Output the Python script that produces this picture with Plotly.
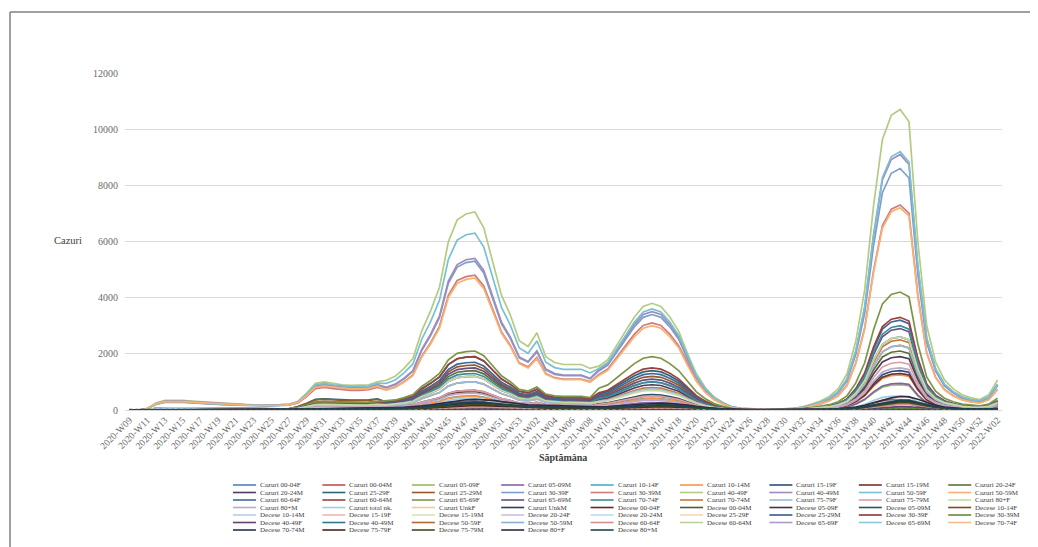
import plotly.graph_objects as go

weeks = ["2020-W09","2020-W10","2020-W11","2020-W12","2020-W13","2020-W14","2020-W15","2020-W16","2020-W17","2020-W18",
"2020-W19","2020-W20","2020-W21","2020-W22","2020-W23","2020-W24","2020-W25","2020-W26","2020-W27","2020-W28",
"2020-W29","2020-W30","2020-W31","2020-W32","2020-W33","2020-W34","2020-W35","2020-W36","2020-W37","2020-W38",
"2020-W39","2020-W40","2020-W41","2020-W42","2020-W43","2020-W44","2020-W45","2020-W46","2020-W47","2020-W48",
"2020-W49","2020-W50","2020-W51","2020-W52","2020-W53","2021-W01","2021-W02","2021-W03","2021-W04","2021-W05",
"2021-W06","2021-W07","2021-W08","2021-W09","2021-W10","2021-W11","2021-W12","2021-W13","2021-W14","2021-W15",
"2021-W16","2021-W17","2021-W18","2021-W19","2021-W20","2021-W21","2021-W22","2021-W23","2021-W24","2021-W25",
"2021-W26","2021-W27","2021-W28","2021-W29","2021-W30","2021-W31","2021-W32","2021-W33","2021-W34","2021-W35",
"2021-W36","2021-W37","2021-W38","2021-W39","2021-W40","2021-W41","2021-W42","2021-W43","2021-W44","2021-W45",
"2021-W46","2021-W47","2021-W48","2021-W49","2021-W50","2021-W51","2021-W52","2022-W01","2022-W02"]

c_00_04F = [0,0,2,7,10,10,10,9,9,8,7,7,6,6,5,5,5,6,6,
 9,18,29,30,29,27,26,26,27,30,
 23,26,32,39,60,75,93,128,144,149,150,138,113,87,72,53,48,59,41,36,35,35,35,32,
 41,47,60,74,87,97,100,97,87,74,53,34,21,12,7,3,
 2,1,1,1,1,1,2,4,7,11,16,25,42,81,140,238,315,343,350,336,196,98,56,35,25,18,14,12,18,35]
c_00_04M = [0,0,2,7,10,10,10,9,9,8,7,7,6,6,5,5,5,6,6,
 11,21,33,35,33,32,31,31,32,35,
 26,29,36,44,68,85,105,145,163,168,170,156,128,99,82,60,54,66,46,41,39,39,39,36,
 45,52,66,81,96,107,110,107,96,81,58,37,23,13,8,3,
 2,2,1,1,1,2,2,4,8,11,17,27,46,87,152,258,342,372,380,365,213,106,61,38,27,19,15,13,19,38]
c_05_09F = [0,0,2,7,10,10,10,9,9,8,7,7,6,6,5,5,5,6,6,
 15,30,48,50,48,45,44,44,45,50,
 45,51,63,78,120,150,186,255,288,297,300,276,225,174,144,105,96,117,81,72,69,69,69,63,
 103,118,150,185,218,243,250,243,218,185,133,85,53,30,18,8,
 5,4,3,3,3,4,5,9,18,27,41,63,108,207,360,612,810,882,900,864,504,252,144,90,63,45,36,32,45,90]
c_05_09M = [0,0,2,7,10,10,10,9,9,8,7,7,6,6,5,5,5,6,6,
 15,30,48,50,48,45,44,44,45,50,
 48,54,67,83,128,160,198,272,307,317,320,294,240,186,154,112,102,125,86,77,74,74,74,67,
 107,122,156,192,226,252,260,252,226,192,138,88,55,31,18,8,
 6,4,3,3,3,4,6,10,19,29,43,67,114,219,380,646,855,931,950,912,532,266,152,95,67,48,38,33,48,95]
c_10_14F = [0,0,2,11,15,15,15,14,13,12,11,10,9,8,8,8,8,8,9,
 24,48,76,80,76,72,70,70,72,80,
 75,85,105,130,200,250,310,425,480,495,500,460,375,290,240,175,160,195,135,120,115,115,115,105,
 172,197,252,311,365,407,420,407,365,311,223,143,88,50,29,13,
 8,5,4,4,4,5,8,13,26,39,59,91,156,299,520,884,1170,1274,1300,1248,728,364,208,130,91,65,52,46,65,130]
c_10_14M = [0,0,2,11,15,15,15,14,13,12,11,10,9,8,8,8,8,8,9,
 24,48,76,80,76,72,70,70,72,80,
 72,82,101,125,192,240,298,408,461,475,480,442,360,278,230,168,154,187,130,115,110,110,110,101,
 164,188,240,296,348,388,400,388,348,296,212,136,84,48,28,12,
 8,5,4,4,4,5,8,13,25,38,56,88,150,288,500,850,1125,1225,1250,1200,700,350,200,125,88,63,50,44,63,125]
c_15_19F = [0,0,3,14,19,20,19,18,17,15,14,13,12,11,10,10,10,11,12,
 36,72,114,120,114,108,106,106,108,120,
 105,119,147,182,280,350,434,595,672,693,700,644,525,406,336,245,224,273,189,168,161,161,161,147,
 226,259,330,407,479,534,550,534,479,407,292,187,116,66,39,17,
 8,6,4,4,4,6,8,14,28,42,63,98,168,322,560,952,1260,1372,1400,1344,784,392,224,140,98,70,56,49,70,140]
c_15_19M = [0,0,3,14,19,20,19,18,17,15,14,13,12,11,10,10,10,11,12,
 36,72,114,120,114,108,106,106,108,120,
 98,111,137,169,260,325,403,553,624,644,650,598,488,377,312,228,208,254,176,156,150,150,150,137,
 205,235,300,370,435,485,500,485,435,370,265,170,105,60,35,15,
 8,5,4,4,4,5,8,13,26,39,59,91,156,299,520,884,1170,1274,1300,1248,728,364,208,130,91,65,52,46,65,130]
c_20_24F = [0,0,8,35,49,50,49,45,43,39,35,33,30,28,26,26,26,28,30,
 90,180,285,300,285,270,264,264,270,300,
 210,238,294,364,560,700,868,1190,1344,1386,1400,1288,1050,812,672,490,448,546,378,336,322,322,322,294,
 410,470,600,740,870,970,1000,970,870,740,530,340,210,120,70,30,
 13,8,6,6,6,8,13,21,42,63,95,147,252,483,840,1428,1890,2058,2100,2016,1176,588,336,210,147,105,84,74,105,210]
c_20_24M = [0,0,8,35,49,50,49,45,43,39,35,33,30,28,26,26,26,28,30,
 84,168,266,280,266,252,246,246,252,280,
 180,204,252,312,480,600,744,1020,1152,1188,1200,1104,900,696,576,420,384,468,324,288,276,276,276,252,
 369,423,540,666,783,873,900,873,783,666,477,306,189,108,63,27,
 11,8,6,6,6,8,11,19,38,57,86,133,228,437,760,1292,1710,1862,1900,1824,1064,532,304,190,133,95,76,67,95,190]
c_25_29F = [0,0,11,49,68,70,68,63,60,54,49,46,42,39,36,36,36,39,42,
 120,240,380,400,380,360,352,352,360,400,
 285,323,399,494,760,950,1178,1615,1824,1881,1900,1748,1425,1102,912,665,608,741,513,456,437,437,437,399,
 574,658,840,1036,1218,1358,1400,1358,1218,1036,742,476,294,168,98,42,
 16,10,8,8,8,10,16,26,52,78,117,182,312,598,1040,1768,2340,2548,2600,2496,1456,728,416,260,182,130,104,91,130,260]
c_25_29M = [0,0,11,49,68,70,68,63,60,54,49,46,42,39,36,36,36,39,42,
 114,228,361,380,361,342,334,334,342,380,
 240,272,336,416,640,800,992,1360,1536,1584,1600,1472,1200,928,768,560,512,624,432,384,368,368,368,336,
 492,564,720,888,1044,1164,1200,1164,1044,888,636,408,252,144,84,36,
 14,9,7,7,7,9,14,23,46,69,104,161,276,529,920,1564,2070,2254,2300,2208,1288,644,368,230,161,115,92,81,115,230]
c_30_39F = [0,0,40,200,270,280,270,250,240,220,200,180,170,150,150,150,150,150,170,
 260,510,810,850,810,770,750,750,770,850,
 800,900,1110,1380,2120,2650,3290,4510,5090,5250,5300,4880,3980,3070,2540,1860,1700,2070,1430,1270,1220,1220,1220,1110,
 1390,1600,2040,2520,2960,3300,3400,3300,2960,2520,1800,1160,710,410,240,100,
 52,34,26,26,26,34,52,86,170,260,390,600,1030,1980,3440,5850,7740,8430,8600,8260,4820,2410,1380,860,600,430,340,300,430,860]
c_30_39M = [0,0,45,210,290,300,290,270,260,230,210,200,180,170,160,160,160,170,180,
 240,480,760,800,760,720,700,700,720,800,
 720,820,1010,1250,1920,2400,2980,4080,4610,4750,4800,4420,3600,2780,2300,1680,1540,1870,1300,1150,1100,1100,1100,1010,
 1270,1460,1860,2290,2700,3010,3100,3010,2700,2290,1640,1050,650,370,220,90,
 44,29,22,22,22,29,44,73,150,220,330,510,880,1680,2920,4960,6570,7150,7300,7010,4090,2040,1170,730,510,370,290,260,370,730]
c_40_49F = [0,0,50,250,340,350,340,320,300,270,250,230,210,190,180,180,180,190,210,
 300,600,950,1000,950,900,880,880,900,1000,
 1060,1200,1480,1830,2820,3530,4370,5990,6770,6980,7050,6490,5290,4090,3380,2470,2260,2750,1900,1690,1620,1620,1620,1480,
 1560,1790,2280,2810,3310,3690,3800,3690,3310,2810,2010,1290,800,460,270,110,
 60,40,30,30,30,40,60,110,210,320,480,750,1280,2460,4280,7280,9630,10490,10700,10270,5990,3000,1710,1070,750,540,430,370,540,1070]
c_40_49M = [0,0,50,230,320,330,320,300,280,250,230,210,200,180,170,170,170,180,200,
 270,540,860,900,860,810,790,790,810,900,
 810,920,1130,1400,2160,2700,3350,4590,5180,5350,5400,4970,4050,3130,2590,1890,1730,2110,1460,1300,1240,1240,1240,1130,
 1440,1650,2100,2590,3050,3400,3500,3400,3050,2590,1860,1190,740,420,250,110,
 55,36,27,27,27,36,55,91,180,270,410,640,1090,2090,3640,6190,8190,8920,9100,8740,5100,2550,1460,910,640,460,360,320,460,910]
c_50_59F = [0,0,45,210,290,300,290,270,260,230,210,200,180,170,160,160,160,170,180,
 290,570,900,950,900,860,840,840,860,950,
 950,1070,1320,1640,2520,3150,3910,5360,6050,6240,6300,5800,4730,3650,3020,2210,2020,2460,1700,1510,1450,1450,1450,1320,
 1480,1690,2160,2660,3130,3490,3600,3490,3130,2660,1910,1220,760,430,250,110,
 55,37,28,28,28,37,55,92,184,276,414,644,1104,2116,3680,6256,8280,9016,9200,8832,5152,2576,1472,920,644,460,368,322,460,920]
c_50_59M = [0,0,45,220,300,310,300,280,260,240,220,200,190,170,160,160,160,170,190,
 260,510,810,850,810,770,750,750,770,850,
 710,800,990,1220,1880,2350,2910,4000,4510,4650,4700,4320,3530,2730,2260,1650,1500,1830,1270,1130,1080,1080,1080,990,
 1230,1410,1800,2220,2610,2910,3000,2910,2610,2220,1590,1020,630,360,210,90,
 43,29,22,22,22,29,43,72,140,220,320,500,860,1660,2880,4900,6480,7060,7200,6910,4030,2020,1150,720,500,360,290,250,360,720]
c_60_64F = [0,0,9,42,58,60,58,54,51,46,42,39,36,33,31,31,31,33,36,
 75,150,238,250,238,225,220,220,225,250,
 255,289,357,442,680,850,1054,1445,1632,1683,1700,1564,1275,986,816,595,544,663,459,408,391,391,391,357,
 533,611,780,962,1131,1261,1300,1261,1131,962,689,442,273,156,91,39,
 19,13,10,10,10,13,19,32,64,96,144,224,384,736,1280,2176,2880,3136,3200,3072,1792,896,512,320,224,160,128,112,160,320]
c_60_64M = [0,0,10,55,78,80,78,72,68,62,56,52,48,44,42,42,42,44,48,
 84,168,266,280,266,252,246,246,252,280,
 285,323,399,494,760,950,1178,1615,1824,1881,1900,1748,1425,1102,912,665,608,741,513,456,437,437,437,399,
 615,705,900,1110,1305,1455,1500,1455,1305,1110,795,510,315,180,105,45,
 20,13,10,10,10,13,20,33,66,99,149,231,396,759,1320,2244,2970,3234,3300,3168,1848,924,528,330,231,165,132,116,165,330]
c_65_69F = [0,0,10,55,78,80,78,72,68,62,56,52,48,44,42,42,42,44,48,
 90,180,285,300,285,270,264,264,270,300,
 315,357,441,546,840,1050,1302,1785,2016,2079,2100,1932,1575,1218,1008,735,672,819,567,504,483,483,483,441,
 779,893,1140,1406,1653,1843,1900,1843,1653,1406,1007,646,399,228,133,57,
 25,17,13,13,13,17,25,42,84,126,189,294,504,966,1680,2856,3780,4116,4200,4032,2352,1176,672,420,294,210,168,147,210,420]
c_65_69M = [0,0,9,42,58,60,58,54,51,46,42,39,36,33,31,31,31,33,36,
 69,138,219,230,219,207,202,202,207,230,
 225,255,315,390,600,750,930,1275,1440,1485,1500,1380,1125,870,720,525,480,585,405,360,345,345,345,315,
 451,517,660,814,957,1067,1100,1067,957,814,583,374,231,132,77,33,
 17,12,9,9,9,12,17,29,58,87,131,203,348,667,1160,1972,2610,2842,2900,2784,1624,812,464,290,203,145,116,102,145,290]
c_70_74F = [0,0,8,35,49,50,49,45,43,39,35,33,30,28,26,26,26,28,30,
 60,120,190,200,190,180,176,176,180,200,
 195,221,273,338,520,650,806,1105,1248,1287,1300,1196,975,754,624,455,416,507,351,312,299,299,299,273,
 410,470,600,740,870,970,1000,970,870,740,530,340,210,120,70,30,
 18,12,9,9,9,12,18,30,60,90,135,210,360,690,1200,2040,2700,2940,3000,2880,1680,840,480,300,210,150,120,105,150,300]
c_70_74M = [0,0,8,35,49,50,49,45,43,39,35,33,30,28,26,26,26,28,30,
 51,102,162,170,162,153,150,150,153,170,
 150,170,210,260,400,500,620,850,960,990,1000,920,750,580,480,350,320,390,270,240,230,230,230,210,
 328,376,480,592,696,776,800,776,696,592,424,272,168,96,56,24,
 15,10,8,8,8,10,15,25,50,75,113,175,300,575,1000,1700,2250,2450,2500,2400,1400,700,400,250,175,125,100,88,125,250]
c_75_79F = [0,0,8,35,49,50,49,45,43,39,35,33,30,28,26,26,26,28,30,
 45,90,143,150,143,135,132,132,135,150,
 150,170,210,260,400,500,620,850,960,990,1000,920,750,580,480,350,320,390,270,240,230,230,230,210,
 308,353,450,555,653,728,750,728,653,555,398,255,158,90,53,23,
 14,9,7,7,7,9,14,23,46,69,104,161,276,529,920,1564,2070,2254,2300,2208,1288,644,368,230,161,115,92,81,115,230]
c_75_79M = [0,0,6,28,39,40,39,36,34,31,28,26,24,22,21,21,21,22,24,
 33,66,105,110,105,99,97,97,99,110,
 105,119,147,182,280,350,434,595,672,693,700,644,525,406,336,245,224,273,189,168,161,161,161,147,
 205,235,300,370,435,485,500,485,435,370,265,170,105,60,35,15,
 10,7,5,5,5,7,10,17,34,51,77,119,204,391,680,1156,1530,1666,1700,1632,952,476,272,170,119,85,68,60,85,170]
c_80pF = [0,0,10,55,78,80,78,72,68,62,56,52,48,44,42,42,42,44,48,
 60,120,190,200,190,180,176,176,180,200,
 180,204,252,312,480,600,744,1020,1152,1188,1200,1104,900,696,576,420,384,468,324,288,276,276,276,252,
 287,329,420,518,609,679,700,679,609,518,371,238,147,84,49,21,
 16,10,8,8,8,10,16,26,52,78,117,182,312,598,1040,1768,2340,2548,2600,2496,1456,728,416,260,182,130,104,91,130,260]
c_80pM = [0,0,8,35,49,50,49,45,43,39,35,33,30,28,26,26,26,28,30,
 30,60,95,100,95,90,88,88,90,100,
 90,102,126,156,240,300,372,510,576,594,600,552,450,348,288,210,192,234,162,144,138,138,138,126,
 144,165,210,259,305,340,350,340,305,259,186,119,74,42,25,11,
 9,6,5,5,5,6,9,15,30,45,68,105,180,345,600,1020,1350,1470,1500,1440,840,420,240,150,105,75,60,53,75,150]
c_total_nk = [0,0,5,21,29,30,29,27,26,23,21,20,18,17,16,16,16,17,18,
 18,36,57,60,57,54,53,53,54,60,
 60,68,84,104,160,200,248,340,384,396,400,368,300,232,192,140,128,156,108,96,92,92,92,84,
 82,94,120,148,174,194,200,194,174,148,106,68,42,24,14,6,
 3,2,2,2,2,2,3,5,10,15,23,35,60,115,200,340,450,490,500,480,280,140,80,50,35,25,20,18,25,50]
c_unkF = [0,0,1,4,5,5,5,5,4,4,4,3,3,3,3,3,3,3,3,
 6,12,19,20,19,18,18,18,18,20,
 30,34,42,52,80,100,124,170,192,198,200,184,150,116,96,70,64,78,54,48,46,46,46,42,
 41,47,60,74,87,97,100,97,87,74,53,34,21,12,7,3,
 2,1,1,1,1,1,2,3,6,9,14,21,36,69,120,204,270,294,300,288,168,84,48,30,21,15,12,11,15,30]
c_unkM = [0,0,1,4,5,5,5,5,4,4,4,3,3,3,3,3,3,3,3,
 6,12,19,20,19,18,18,18,18,20,
 23,26,32,39,60,75,93,128,144,149,150,138,113,87,72,53,48,59,41,36,35,35,35,32,
 33,38,48,59,70,78,80,78,70,59,42,27,17,10,6,2,
 2,1,1,1,1,1,2,3,5,8,11,18,30,58,100,170,225,245,250,240,140,70,40,25,18,13,10,9,13,25]

d_00_04F = [0,0,0,0,0,0,0,0,0,0,0,0,0,0,0,0,0,0,0,
 0,0,0,0,0,0,0,0,0,0,
 0,0,0,0,0,0,0,0,0,1,1,1,0,0,0,0,0,0,0,0,0,0,0,0,
 0,0,0,0,0,0,0,0,0,0,0,0,0,0,0,0,
 0,0,0,0,0,0,0,0,0,0,0,0,0,0,0,1,1,1,2,1,1,1,0,0,0,0,0,0,0,0]
d_00_04M = [0,0,0,0,0,0,0,0,0,0,0,0,0,0,0,0,0,0,0,
 0,0,0,0,0,0,0,0,0,0,
 0,0,0,0,0,0,0,0,1,1,1,1,1,0,0,0,0,0,0,0,0,0,0,0,
 0,0,0,0,0,0,0,0,0,0,0,0,0,0,0,0,
 0,0,0,0,0,0,0,0,0,0,0,0,0,0,1,1,1,2,2,1,1,0,0,0,0,0,0,0,0,0]
d_05_09F = [0,0,0,0,0,0,0,0,0,0,0,0,0,0,0,0,0,0,0,
 0,0,0,0,0,0,0,0,0,0,
 0,0,0,0,0,0,0,0,0,0,1,0,0,0,0,0,0,0,0,0,0,0,0,0,
 0,0,0,0,0,0,0,0,0,0,0,0,0,0,0,0,
 0,0,0,0,0,0,0,0,0,0,0,0,0,0,0,0,1,1,1,1,0,0,0,0,0,0,0,0,0,0]
d_05_09M = [0,0,0,0,0,0,0,0,0,0,0,0,0,0,0,0,0,0,0,
 0,0,0,0,0,0,0,0,0,0,
 0,0,0,0,0,0,0,0,0,0,0,0,0,0,0,0,0,0,0,0,0,0,0,0,
 0,0,0,0,0,0,0,0,0,0,0,0,0,0,0,0,
 0,0,0,0,0,0,0,0,0,0,0,0,0,0,0,0,0,0,0,0,0,0,0,0,0,0,0,0,0,0]
d_10_14F = [0,0,0,0,0,0,0,0,0,0,0,0,0,0,0,0,0,0,0,
 0,0,0,0,0,0,0,0,0,0,
 0,0,0,0,0,0,0,1,1,1,1,1,1,0,0,0,0,0,0,0,0,0,0,0,
 0,0,0,0,0,1,1,1,0,0,0,0,0,0,0,0,
 0,0,0,0,0,0,0,0,0,0,0,0,0,0,1,1,1,2,2,2,1,1,0,0,0,0,0,0,0,0]
d_10_14M = [0,0,0,0,0,0,0,0,0,0,0,0,0,0,0,0,0,0,0,
 0,0,0,0,0,0,0,0,0,0,
 0,0,0,0,0,0,0,1,1,1,1,1,1,0,0,0,0,0,0,0,0,0,0,0,
 0,0,0,0,0,1,1,1,0,0,0,0,0,0,0,0,
 0,0,0,0,0,0,0,0,0,0,0,0,0,0,1,1,1,2,2,2,1,1,0,0,0,0,0,0,0,0]
d_15_19F = [0,0,0,0,0,0,0,0,0,0,0,0,0,0,0,0,0,0,0,
 0,0,0,0,0,0,0,0,0,0,
 0,0,0,0,1,1,1,1,2,2,2,2,2,1,1,1,1,1,1,1,0,0,0,0,
 1,1,1,1,1,2,2,2,2,1,1,1,0,0,0,0,
 0,0,0,0,0,0,0,0,0,0,0,0,0,1,1,1,2,3,3,3,2,2,1,1,0,0,0,0,0,0]
d_15_19M = [0,0,0,0,0,0,0,0,0,0,0,0,0,0,0,0,0,0,0,
 0,0,0,0,0,0,0,0,0,0,
 0,0,0,1,1,1,1,2,2,2,2,2,2,2,1,1,1,1,1,1,1,0,0,0,
 1,1,1,1,1,2,2,2,2,1,1,1,0,0,0,0,
 0,0,0,0,0,0,0,0,0,0,0,0,1,1,1,2,3,4,4,4,3,2,1,1,1,0,0,0,0,0]
d_20_24F = [0,0,0,0,0,0,0,0,0,0,0,0,0,0,0,0,0,0,0,
 0,0,0,0,1,1,1,1,1,1,
 1,1,1,1,1,2,2,2,3,3,3,3,3,2,2,2,2,1,1,1,1,1,1,1,
 1,1,2,2,2,3,3,3,3,2,2,2,1,1,0,0,
 0,0,0,0,0,0,0,0,0,0,0,0,1,1,2,3,4,5,5,5,4,3,2,1,1,1,0,0,0,0]
d_20_24M = [0,0,0,0,0,0,0,0,0,0,0,0,0,0,0,0,0,0,0,
 0,0,1,1,1,1,1,1,1,1,
 1,1,1,1,2,2,2,3,4,4,4,4,4,3,3,2,2,2,2,2,1,1,1,1,
 2,2,2,3,3,4,4,4,4,3,3,2,1,1,1,0,
 0,0,0,0,0,0,0,0,0,0,0,1,1,2,3,4,6,7,8,8,6,4,3,2,1,1,1,1,1,1]
d_25_29F = [0,0,0,0,0,0,0,0,0,0,0,0,0,0,0,0,0,0,0,
 0,1,1,1,1,1,1,1,1,1,
 1,1,1,2,2,2,3,4,4,5,5,5,5,4,3,3,2,2,2,2,2,2,2,2,
 2,2,2,3,3,4,4,4,4,3,3,2,1,1,1,0,
 0,0,0,0,0,0,0,0,0,0,1,1,1,2,4,5,7,9,10,10,8,6,4,2,2,1,1,1,1,1]
d_25_29M = [0,0,0,0,0,0,0,0,0,0,0,0,0,0,0,0,0,0,0,
 1,1,1,1,1,1,1,1,1,1,
 2,2,2,2,3,4,5,6,7,8,8,8,7,6,5,4,4,4,3,3,3,3,3,2,
 3,3,3,4,5,5,6,6,6,5,4,3,2,1,1,1,
 0,0,0,0,0,0,0,0,0,1,1,1,2,3,5,8,11,14,15,15,12,8,5,3,2,2,1,1,1,1]
d_30_39F = [0,0,0,0,1,1,1,1,1,1,1,1,1,1,1,1,1,1,1,
 2,2,3,3,3,3,3,3,3,4,
 4,4,5,6,8,10,12,15,18,19,20,20,18,16,13,11,10,9,8,8,7,7,6,6,
 7,8,9,10,12,14,15,15,14,13,11,8,5,4,2,1,
 1,1,0,0,0,0,1,1,1,2,2,4,6,9,14,21,29,36,40,39,32,22,14,9,6,4,4,3,3,4]
d_30_39M = [0,0,0,1,2,2,2,2,2,2,2,2,2,2,2,2,2,2,3,
 3,4,5,6,6,6,6,6,6,7,
 8,9,10,12,15,19,24,30,35,38,40,39,36,31,26,22,19,18,17,15,14,13,13,12,
 14,15,17,20,24,27,29,30,29,26,21,16,11,7,5,3,
 2,1,1,1,1,1,1,2,2,3,5,7,11,18,28,42,58,72,80,78,64,44,28,18,12,9,7,6,6,7]
d_40_49F = [0,0,0,1,3,3,3,3,3,3,2,2,2,2,2,2,3,3,4,
 4,5,7,8,8,8,8,8,8,9,
 10,11,13,15,19,24,30,38,44,48,50,49,45,39,33,28,24,23,21,19,18,17,16,16,
 18,20,23,27,32,36,39,40,38,34,28,21,14,10,6,4,
 2,2,1,1,1,1,2,2,4,5,7,11,17,26,42,62,86,108,120,116,96,66,42,26,18,13,11,10,10,11]
d_40_49M = [0,0,0,2,6,7,7,7,6,6,4,4,4,4,4,4,6,7,8,
 9,11,14,17,18,18,17,17,18,20,
 22,24,28,33,42,53,66,83,97,106,110,108,99,86,73,61,53,50,46,42,39,36,35,34,
 36,40,46,54,64,72,78,80,76,68,56,42,29,19,12,7,
 5,3,2,2,2,2,3,5,7,9,14,21,32,51,81,120,166,207,230,223,184,127,81,51,35,25,21,18,18,21]
d_50_59F = [0,0,0,2,6,7,7,7,6,6,4,4,4,4,4,4,6,7,8,
 9,11,14,17,18,18,17,17,18,20,
 22,24,28,33,42,53,66,83,97,106,110,108,99,86,73,61,53,50,46,42,39,36,35,34,
 36,40,46,54,64,72,78,80,76,68,56,42,29,19,12,7,
 4,3,2,2,2,2,3,4,7,9,13,20,31,48,77,114,158,198,220,213,176,121,77,48,33,24,20,18,18,20]
d_50_59M = [0,0,0,4,11,13,13,13,11,11,9,9,9,9,9,9,11,13,15,
 18,22,29,33,35,35,33,33,35,40,
 44,48,55,66,84,106,132,165,194,211,220,216,198,172,145,121,106,99,92,84,77,73,70,68,
 72,80,93,109,128,144,155,160,152,136,112,83,58,38,24,14,
 7,5,4,4,4,4,5,7,11,14,22,32,50,79,126,187,259,324,360,349,288,198,126,79,54,40,32,29,29,32]
d_60_64F = [0,0,0,2,5,6,6,6,5,5,4,4,4,4,4,4,5,6,7,
 8,10,13,15,16,16,15,15,16,18,
 20,22,25,30,38,48,60,75,88,96,100,98,90,78,66,55,48,45,42,38,35,33,32,31,
 36,40,46,54,64,72,78,80,76,68,56,42,29,19,12,7,
 4,3,2,2,2,2,3,4,6,8,12,18,28,44,70,104,144,180,200,194,160,110,70,44,30,22,18,16,16,18]
d_60_64M = [0,0,0,4,10,12,12,12,10,10,8,8,8,8,8,8,10,12,14,
 16,20,26,30,32,32,30,30,32,36,
 40,44,50,60,76,96,120,150,176,192,200,196,180,156,132,110,96,90,84,76,70,66,64,62,
 68,75,87,102,120,135,146,150,143,128,105,78,54,36,23,14,
 6,5,3,3,3,3,5,6,9,12,18,27,42,66,105,156,216,270,300,291,240,165,105,66,45,33,27,24,24,27]
d_65_69F = [0,0,0,3,7,8,8,8,7,7,6,6,6,6,6,6,7,8,10,
 11,14,18,21,22,22,21,21,22,25,
 28,31,35,42,53,67,84,105,123,134,140,137,126,109,92,77,67,63,59,53,49,46,45,43,
 50,55,64,75,88,99,107,110,105,94,77,57,40,26,17,10,
 5,4,3,3,3,3,4,5,8,10,16,23,36,57,91,135,187,234,260,252,208,143,91,57,39,29,23,21,21,23]
d_65_69M = [0,0,0,5,13,15,15,15,13,13,10,10,10,10,10,10,13,15,18,
 20,25,33,38,40,40,38,38,40,45,
 50,55,63,75,95,120,150,188,220,240,250,245,225,195,165,138,120,113,105,95,88,83,80,78,
 81,90,104,122,144,162,175,180,171,153,126,94,65,43,27,16,
 7,5,3,3,3,3,5,7,10,14,20,31,48,75,119,177,245,306,340,330,272,187,119,75,51,37,31,27,27,31]
d_70_74F = [0,0,0,3,8,9,9,9,8,8,6,6,6,6,6,6,8,9,11,
 12,15,20,23,24,24,23,23,24,27,
 30,33,38,45,57,72,90,113,132,144,150,147,135,117,99,83,72,68,63,57,53,50,48,47,
 54,60,70,82,96,108,116,120,114,102,84,62,43,29,18,11,
 6,5,3,3,3,3,5,6,9,12,18,27,42,66,105,156,216,270,300,291,240,165,105,66,45,33,27,24,24,27]
d_70_74M = [0,0,0,5,12,14,14,14,12,12,10,10,10,10,10,10,12,14,17,
 19,24,31,36,38,38,36,36,38,43,
 48,53,60,72,91,115,144,180,211,230,240,235,216,187,158,132,115,108,101,91,84,79,77,74,
 81,90,104,122,144,162,175,180,171,153,126,94,65,43,27,16,
 7,5,3,3,3,3,5,7,10,13,20,30,46,73,116,172,238,297,330,320,264,182,116,73,50,36,30,26,26,30]
d_75_79F = [0,0,0,3,8,10,10,10,8,8,6,6,6,6,6,6,8,10,11,
 13,16,21,24,26,26,24,24,26,29,
 32,35,40,48,61,77,96,120,141,154,160,157,144,125,106,88,77,72,67,61,56,53,51,50,
 54,60,70,82,96,108,116,120,114,102,84,62,43,29,18,11,
 6,5,3,3,3,3,5,6,9,12,18,27,42,66,105,156,216,270,300,291,240,165,105,66,45,33,27,24,24,27]
d_75_79M = [0,0,0,4,10,12,12,12,10,10,8,8,8,8,8,8,10,12,14,
 16,20,26,30,32,32,30,30,32,36,
 40,44,50,60,76,96,120,150,176,192,200,196,180,156,132,110,96,90,84,76,70,66,64,62,
 68,75,87,102,120,135,146,150,143,128,105,78,54,36,23,14,
 5,4,3,3,3,3,4,5,8,11,16,24,38,59,95,140,194,243,270,262,216,149,95,59,41,30,24,22,22,24]
d_80pF = [0,0,0,8,19,23,23,23,19,19,15,15,15,15,15,15,19,23,27,
 30,38,49,57,61,61,57,57,61,68,
 76,84,95,114,144,182,228,285,334,365,380,372,342,296,251,209,182,171,160,144,133,125,122,118,
 113,125,145,170,200,225,243,250,238,213,175,130,90,60,38,23,
 10,7,5,5,5,5,7,10,14,19,29,43,67,106,168,250,346,432,480,466,384,264,168,106,72,53,43,38,38,43]
d_80pM = [0,0,0,6,14,17,17,17,14,14,11,11,11,11,11,11,14,17,20,
 22,28,36,42,45,45,42,42,45,50,
 56,62,70,84,106,134,168,210,246,269,280,274,252,218,185,154,134,126,118,106,98,92,90,87,
 81,90,104,122,144,162,175,180,171,153,126,94,65,43,27,16,
 7,5,4,4,4,4,5,7,11,14,21,32,49,77,123,182,252,315,350,340,280,193,123,77,53,39,32,28,28,32]

series = [
 ("Cazuri 00-04F", c_00_04F), ("Cazuri 00-04M", c_00_04M), ("Cazuri 05-09F", c_05_09F),
 ("Cazuri 05-09M", c_05_09M), ("Cazuri 10-14F", c_10_14F), ("Cazuri 10-14M", c_10_14M),
 ("Cazuri 15-19F", c_15_19F), ("Cazuri 15-19M", c_15_19M), ("Cazuri 20-24F", c_20_24F),
 ("Cazuri 20-24M", c_20_24M), ("Cazuri 25-29F", c_25_29F), ("Cazuri 25-29M", c_25_29M),
 ("Cazuri 30-39F", c_30_39F), ("Cazuri 30-39M", c_30_39M), ("Cazuri 40-49F", c_40_49F),
 ("Cazuri 40-49M", c_40_49M), ("Cazuri 50-59F", c_50_59F), ("Cazuri 50-59M", c_50_59M),
 ("Cazuri 60-64F", c_60_64F), ("Cazuri 60-64M", c_60_64M), ("Cazuri 65-69F", c_65_69F),
 ("Cazuri 65-69M", c_65_69M), ("Cazuri 70-74F", c_70_74F), ("Cazuri 70-74M", c_70_74M),
 ("Cazuri 75-79F", c_75_79F), ("Cazuri 75-79M", c_75_79M), ("Cazuri 80+F", c_80pF),
 ("Cazuri 80+M", c_80pM), ("Cazuri total nk.", c_total_nk), ("Cazuri UnkF", c_unkF),
 ("Cazuri UnkM", c_unkM), ("Decese 00-04F", d_00_04F), ("Decese 00-04M", d_00_04M),
 ("Decese 05-09F", d_05_09F), ("Decese 05-09M", d_05_09M), ("Decese 10-14F", d_10_14F),
 ("Decese 10-14M", d_10_14M), ("Decese 15-19F", d_15_19F), ("Decese 15-19M", d_15_19M),
 ("Decese 20-24F", d_20_24F), ("Decese 20-24M", d_20_24M), ("Decese 25-29F", d_25_29F),
 ("Decese 25-29M", d_25_29M), ("Decese 30-39F", d_30_39F), ("Decese 30-39M", d_30_39M),
 ("Decese 40-49F", d_40_49F), ("Decese 40-49M", d_40_49M), ("Decese 50-59F", d_50_59F),
 ("Decese 50-59M", d_50_59M), ("Decese 60-64F", d_60_64F), ("Decese 60-64M", d_60_64M),
 ("Decese 65-69F", d_65_69F), ("Decese 65-69M", d_65_69M), ("Decese 70-74F", d_70_74F),
 ("Decese 70-74M", d_70_74M), ("Decese 75-79F", d_75_79F), ("Decese 75-79M", d_75_79M),
 ("Decese 80+F", d_80pF), ("Decese 80+M", d_80pM),
]

# ---- styling (Office 2007 style palette with shade/tint variations) ----
base = ["#4F81BD", "#C0504D", "#9BBB59", "#8064A2", "#4BACC6", "#F79646"]
mods = [("n", 0), ("s", 0.6), ("t", 0.25), ("s", 0.8), ("t", 0.45),
        ("s", 0.5), ("t", 0.6), ("s", 0.7), ("t", 0.35), ("s", 0.4)]

def make_color(i):
    h = base[i % 6]
    r, g, b = int(h[1:3], 16), int(h[3:5], 16), int(h[5:7], 16)
    kind, f = mods[(i // 6) % len(mods)]
    if kind == "s":
        r, g, b = r * f, g * f, b * f
    elif kind == "t":
        r, g, b = r + (255 - r) * f, g + (255 - g) * f, b + (255 - b) * f
    return "#%02X%02X%02X" % (int(round(r)), int(round(g)), int(round(b)))

colors = [make_color(i) for i in range(len(series))]

# page body has an 8px margin, so the figure is offset by 8px on screen
OFF = 8
W, H = 1038 - OFF, 547 - OFF
L, R, T, B = 125 - OFF, 36, 73 - OFF, 137
PW, PH = W - L - R, H - T - B

def px(xs):   # screen pixel x -> paper
    return (xs - OFF - L) / PW

def py(ys):   # screen pixel y -> paper
    return (T + PH - (ys - OFF)) / PH

SERIF = "Liberation Serif, Times New Roman, serif"
DOTTED = 34  # baseline series drawn dotted, on top

fig = go.Figure()
order = [k for k in range(len(series)) if k != DOTTED] + [DOTTED]
for k in order:
    name, vals = series[k]
    fig.add_trace(go.Scatter(
        x=weeks, y=vals, mode="lines", name=name, showlegend=False,
        line=dict(color=colors[k], width=2.6 if k == DOTTED else 1.7,
                  dash="dot" if k == DOTTED else "solid"),
        hoverinfo="x+y+name"))

annotations = [
    dict(text="Cazuri", x=px(52), y=py(240), xref="paper", yref="paper",
         showarrow=False, font=dict(family=SERIF, size=10.5, color="#404040")),
    dict(text="<b>Săptămâna</b>", x=px(563), y=py(465), xref="paper", yref="paper",
         showarrow=False, font=dict(family=SERIF, size=10, color="#404040")),
]
shapes = [
    dict(type="line", xref="paper", yref="paper", x0=px(10), x1=px(1045), y0=py(12), y1=py(12),
         line=dict(color="#808080", width=1.5)),
    dict(type="line", xref="paper", yref="paper", x0=px(10), x1=px(10), y0=py(12), y1=py(560),
         line=dict(color="#808080", width=1.5)),
]

# manual legend: 9 columns x 7 rows
for k, (name, _) in enumerate(series):
    col, row = k % 9, k // 9
    x0 = 233 + 89.4 * col
    yy = 485 + 7.5 * row
    shapes.append(dict(type="line", xref="paper", yref="paper",
                       x0=px(x0), x1=px(x0 + 23), y0=py(yy), y1=py(yy),
                       line=dict(color=colors[k], width=1.6)))
    annotations.append(dict(text=name, x=px(x0 + 25), y=py(yy), xref="paper", yref="paper",
                            xanchor="left", yanchor="middle", showarrow=False,
                            font=dict(family=SERIF, size=7, color="#404040")))

fig.update_layout(
    width=W, height=H, autosize=False,
    margin=dict(l=L, r=R, t=T, b=B, autoexpand=False),
    paper_bgcolor="white", plot_bgcolor="white",
    showlegend=False,
    annotations=annotations, shapes=shapes,
    xaxis=dict(type="category", range=[-0.5, len(weeks) - 0.5],
               tickmode="array", tickvals=weeks[::2], ticktext=weeks[::2],
               tickangle=-45, tickfont=dict(family=SERIF, size=9.5, color="#6A6A6A"),
               showgrid=False, showline=True, linecolor="#D9D9D9", ticks="",
               automargin=False, fixedrange=True),
    yaxis=dict(range=[0, 12000], dtick=2000, tick0=0, tickformat="d",
               tickfont=dict(family=SERIF, size=10, color="#6A6A6A"),
               ticklabelstandoff=6,
               showgrid=True, gridcolor="#D9D9D9", gridwidth=1,
               zeroline=False, showline=False, ticks="", automargin=False,
               fixedrange=True),
)

fig.write_html("out.html", config={"displayModeBar": False})
